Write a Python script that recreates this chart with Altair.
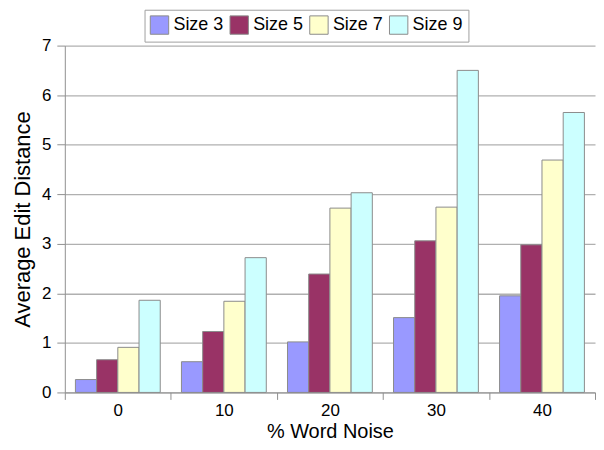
import altair as alt
import pandas as pd

noise = ["0", "10", "20", "30", "40"]
series = ["Size 3", "Size 5", "Size 7", "Size 9"]
size3 = [0.26, 0.62, 1.02, 1.51, 1.95]
size5 = [0.66, 1.23, 2.39, 3.06, 2.98]
size7 = [0.91, 1.84, 3.72, 3.74, 4.69]
size9 = [1.86, 2.72, 4.03, 6.50, 5.65]
colors = ["#9999FF", "#993366", "#FFFFCC", "#CCFFFF"]

rows = []
for name, vals in zip(series, [size3, size5, size7, size9]):
    for n, v in zip(noise, vals):
        rows.append({"noise": n, "series": name, "value": v})
df = pd.DataFrame(rows)

FONT = "Liberation Sans"

chart = alt.Chart(df).mark_bar(stroke="#8c8c8c", strokeWidth=1).encode(
    x=alt.X("noise:N", sort=noise,
            scale=alt.Scale(paddingInner=0, paddingOuter=0),
            axis=alt.Axis(title="% Word Noise", labelAngle=0, tickBand="extent",
                          tickSize=7, labelPadding=3,
                          tickColor="#909090", domainColor="#909090",
                          labelFontSize=17, titleFontSize=20, titleFontWeight="normal",
                          titlePadding=3, labelColor="black", titleColor="black",
                          labelFont=FONT, titleFont=FONT)),
    xOffset=alt.XOffset("series:N", sort=series,
                        scale=alt.Scale(paddingInner=0, paddingOuter=0.5)),
    y=alt.Y("value:Q", scale=alt.Scale(domain=[0, 7]),
            axis=alt.Axis(title="Average Edit Distance", values=[0, 1, 2, 3, 4, 5, 6, 7],
                          tickSize=8, labelPadding=6, tickColor="#909090",
                          domainColor="#909090", gridColor="#b0b0b0", grid=True,
                          labelFontSize=17, titleFontSize=22, titleFontWeight="normal",
                          titlePadding=7, labelColor="black", titleColor="black",
                          labelFont=FONT, titleFont=FONT)),
    fill=alt.Fill("series:N", sort=series,
                  scale=alt.Scale(domain=series, range=colors),
                  legend=alt.Legend(title=None, orient="none", direction="horizontal",
                                    legendX=80, legendY=-36, strokeColor="#a0a0a0",
                                    fillColor="white", padding=5,
                                    symbolType="square", symbolSize=340,
                                    symbolStrokeColor="#8c8c8c", symbolStrokeWidth=1,
                                    labelFontSize=18, labelFont=FONT, labelColor="black",
                                    columnPadding=3, labelOffset=4)),
).properties(
    width=532, height=348,
    padding={"left": 3, "top": 0, "right": 0, "bottom": 0},
).configure_view(stroke=None).configure_axis(domainWidth=1, tickWidth=1, gridWidth=1.3)

chart.save("out.html", embed_options={"renderer": "svg", "actions": False})
